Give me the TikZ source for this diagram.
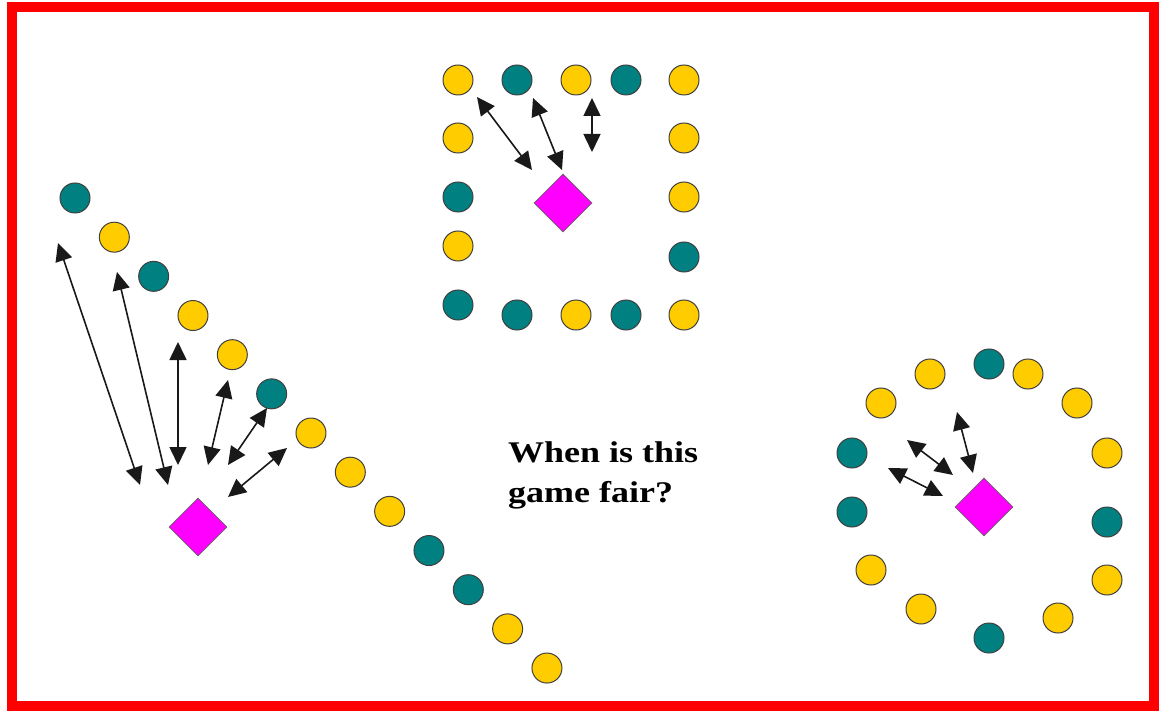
\documentclass[tikz,border=0pt]{standalone}
\usepackage{fontspec}
\newfontfamily\gamefont[FakeStretch=1.2]{Liberation Serif}
\usetikzlibrary{shapes.geometric,arrows.meta}
\definecolor{golddot}{HTML}{FFCC00}
\definecolor{tealdot}{HTML}{008080}
\definecolor{magentabox}{HTML}{FF00FF}
\tikzset{
  yel/.style={circle, draw=black!75, line width=1pt, fill=golddot, minimum size=30pt, inner sep=0pt},
  tea/.style={circle, draw=black!75, line width=1pt, fill=tealdot, minimum size=30pt, inner sep=0pt},
  player/.style={diamond, draw=black!60, line width=0.6pt, fill=magentabox, minimum width=58pt, minimum height=58pt, inner sep=0pt},
  bothway/.style={{Triangle[length=18pt,width=17pt]}-{Triangle[length=18pt,width=17pt]}, line width=1.6pt, draw=black!90, fill=black}
}
\begin{document}
\begin{tikzpicture}[x=1pt,y=-1pt]
\useasboundingbox (0,0) rectangle (1159,711);
\draw[red, line width=10pt] (12,7) rectangle (1154,706);

% diagonal board
\foreach \c [count=\i] in {tea,yel,tea,yel,yel,tea,yel,yel,yel,tea,tea,yel,yel}
  \node[\c] (l\i) at ({75+39.33*(\i-1)}, {198+39.17*(\i-1)}) {};
\node[player] (pl) at (198,527) {};

% square board
\foreach \c/\x/\y [count=\i] in {yel/458/80, tea/517/80, yel/576/80, tea/626/80, yel/684/80,
    yel/684/138, yel/684/197, tea/684/257, yel/684/315, tea/626/315, yel/576/315, tea/517/315,
    tea/458/305, yel/458/246, tea/458/197, yel/458/138}
  \node[\c] (s\i) at (\x,\y) {};
\node[player] (ps) at (563,203) {};

% round board
\foreach \c/\x/\y [count=\i] in {tea/989/364, yel/1028/374, yel/1077/403, yel/1107/453, tea/1107/522,
    yel/1107/580, yel/1058/618, tea/989/638, yel/921/609, yel/871/570, tea/852/512, tea/852/453,
    yel/881/403, yel/930/374}
  \node[\c] (r\i) at (\x,\y) {};
\node[player] (pr) at (984,507) {};

% moves
\coordinate (a1) at (58,243);   \coordinate (b1) at (140,485);
\coordinate (a2) at (117,272);  \coordinate (b2) at (168,485);
\coordinate (a3) at (178,342);  \coordinate (b3) at (178,465);
\coordinate (a4) at (228,380);  \coordinate (b4) at (208,465);
\coordinate (a5) at (267,408);  \coordinate (b5) at (228,465);
\coordinate (a6) at (287,448);  \coordinate (b6) at (228,497);
\coordinate (a7) at (477,97);   \coordinate (b7) at (532,170);
\coordinate (a8) at (533,98);   \coordinate (b8) at (562,170);
\coordinate (a9) at (592,98);   \coordinate (b9) at (592,152);
\coordinate (a10) at (957,412); \coordinate (b10) at (973,473);
\coordinate (a11) at (907,440); \coordinate (b11) at (953,475);
\coordinate (a12) at (888,468); \coordinate (b12) at (943,496);
\foreach \i in {1,...,12}
  \draw[bothway] (a\i) -- (b\i);

\node[font=\gamefont\bfseries\fontsize{30}{40}\selectfont, align=left, anchor=north west, inner sep=0pt] (ask) at (508,441) {When is this\\game fair?};
\end{tikzpicture}
\end{document}
